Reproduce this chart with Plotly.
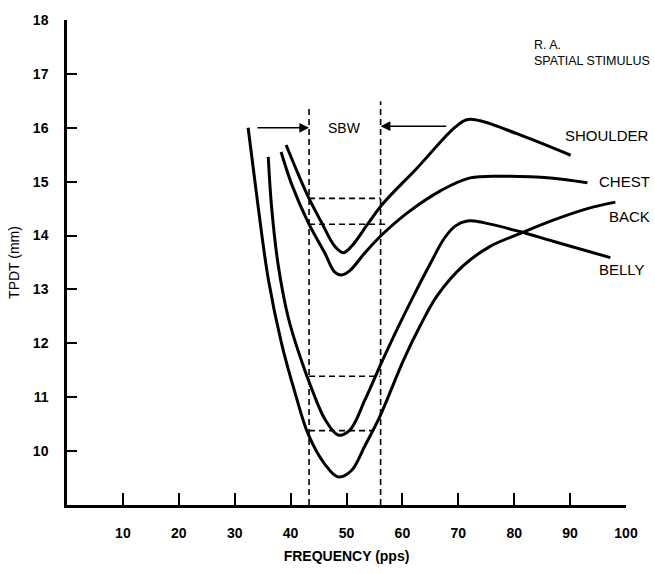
import plotly.graph_objects as go

# ---- data ----
back_x = [32.4, 34.2, 36.0, 38.4, 40.8, 43.2, 46.1, 48.5, 50.9, 53.3, 56.0, 60.2, 63.2, 66.2, 70.9, 75.7, 81.1, 87.1, 93.1, 98.1]
back_y = [16.0, 14.53, 13.2, 11.99, 11.08, 10.30, 9.76, 9.52, 9.64, 10.10, 10.65, 11.69, 12.33, 12.88, 13.44, 13.80, 14.04, 14.29, 14.50, 14.62]

belly_x = [36.0, 36.6, 37.8, 39.6, 41.7, 43.8, 46.1, 48.5, 50.6, 53.3, 56.3, 59.0, 62.0, 65.0, 67.5, 69.5, 71.6, 74.5, 81.1, 87.1, 97.2]
belly_y = [15.46, 14.53, 13.44, 12.47, 11.75, 11.15, 10.60, 10.30, 10.39, 10.95, 11.65, 12.25, 12.88, 13.48, 13.95, 14.18, 14.27, 14.24, 14.07, 13.89, 13.59]

shoulder_x = [39.2, 41.4, 43.2, 45.6, 47.9, 49.4, 50.9, 53.9, 56.5, 62.6, 69.1, 71.5, 73.9, 80.5, 90.1]
shoulder_y = [15.68, 15.13, 14.71, 14.23, 13.80, 13.68, 13.80, 14.23, 14.59, 15.25, 15.98, 16.15, 16.13, 15.89, 15.49]

chest_x = [38.3, 40.2, 43.2, 46.1, 47.9, 49.1, 50.6, 53.3, 56.3, 61.0, 66.8, 72.1, 78.7, 86.5, 93.1]
chest_y = [15.55, 14.95, 14.23, 13.68, 13.32, 13.27, 13.35, 13.68, 14.01, 14.43, 14.83, 15.07, 15.10, 15.07, 14.98]

curve_names = ["SHOULDER", "CHEST", "BACK", "BELLY"]
label_x = [88.8, 94.8, 96.6, 94.8]
label_y = [15.86, 15.01, 14.36, 13.37]

# SBW boundaries (vertical dashed) and matched-level horizontal dashed lines
sbw_x = [43.3, 56.1]
sbw_top = [16.40, 16.49]
y_floor = 9.0
level_y = [14.69, 14.21, 11.39, 10.38]
level_x_end = [56.1, 57.5, 56.0, 54.9]

arrow_left = (33.8, 43.3, 16.0)
arrow_right = (68.1, 56.1, 16.03)

x_ticks = [10, 20, 30, 40, 50, 60, 70, 80, 90, 100]
y_ticks = [10, 11, 12, 13, 14, 15, 16, 17, 18]

FONT = "Liberation Sans, Arial, sans-serif"

fig = go.Figure()

for xs, ys in [(shoulder_x, shoulder_y), (chest_x, chest_y), (back_x, back_y), (belly_x, belly_y)]:
    fig.add_trace(go.Scatter(x=xs, y=ys, mode="lines",
                             line=dict(color="black", width=3, shape="spline", smoothing=1.0),
                             showlegend=False, hoverinfo="skip"))

dash_style = dict(color="black", width=1.6, dash="6px,4px")
for xv, top in zip(sbw_x, sbw_top):
    fig.add_trace(go.Scatter(x=[xv, xv], y=[y_floor, top], mode="lines",
                             line=dash_style, showlegend=False, hoverinfo="skip"))
for ly, xe in zip(level_y, level_x_end):
    fig.add_trace(go.Scatter(x=[sbw_x[0], xe], y=[ly, ly], mode="lines",
                             line=dash_style, showlegend=False, hoverinfo="skip"))

annotations = []
for (x0, x1, yv) in [arrow_left, arrow_right]:
    annotations.append(dict(x=x1, y=yv, ax=x0, ay=yv, xref="x", yref="y",
                            axref="x", ayref="y", text="", showarrow=True,
                            arrowhead=2, arrowsize=1.3, arrowwidth=1.5,
                            arrowcolor="black", standoff=0, startstandoff=0))

annotations.append(dict(x=(sbw_x[0] + sbw_x[1]) / 2, y=16.0, xref="x", yref="y",
                        text="SBW", showarrow=False, font=dict(size=14, color="black", family=FONT)))

for name, lx, ly in zip(curve_names, label_x, label_y):
    annotations.append(dict(x=lx, y=ly, xref="x", yref="y", text=name, showarrow=False,
                            xanchor="left", yanchor="middle",
                            font=dict(size=15, color="black", family=FONT)))

annotations.append(dict(x=0.832, y=0.967, xref="paper", yref="paper",
                        text="R. A.<br>SPATIAL STIMULUS", showarrow=False,
                        xanchor="left", yanchor="top", align="left",
                        font=dict(size=12.5, color="black", family=FONT)))

fig.update_layout(
    width=655, height=574,
    margin=dict(l=67, r=29, t=15, b=62),
    paper_bgcolor="white", plot_bgcolor="white",
    font=dict(family=FONT, color="black", size=14),
    annotations=annotations,
    xaxis=dict(range=[0, 100], tickvals=x_ticks, ticktext=[str(v) for v in x_ticks],
               showline=True, linecolor="black", linewidth=2.5,
               ticks="inside", ticklen=12, tickwidth=1.5, tickcolor="black",
               showgrid=False, zeroline=False, ticklabelstandoff=13,
               tickfont=dict(size=14, family=FONT, color="black", weight="bold"),
               title=dict(text="FREQUENCY (pps)", font=dict(size=14, family=FONT, color="black", weight="bold"), standoff=12)),
    yaxis=dict(range=[9, 18], tickvals=y_ticks, ticktext=[str(v) for v in y_ticks],
               showline=True, linecolor="black", linewidth=2.5,
               ticks="inside", ticklen=10, tickwidth=1.5, tickcolor="black",
               showgrid=False, zeroline=False, ticklabelstandoff=13,
               tickfont=dict(size=14, family=FONT, color="black", weight="bold"),
               title=dict(text="TPDT (mm)", font=dict(size=14, family=FONT, color="black"), standoff=10)),
)

fig.write_html("out.html")
